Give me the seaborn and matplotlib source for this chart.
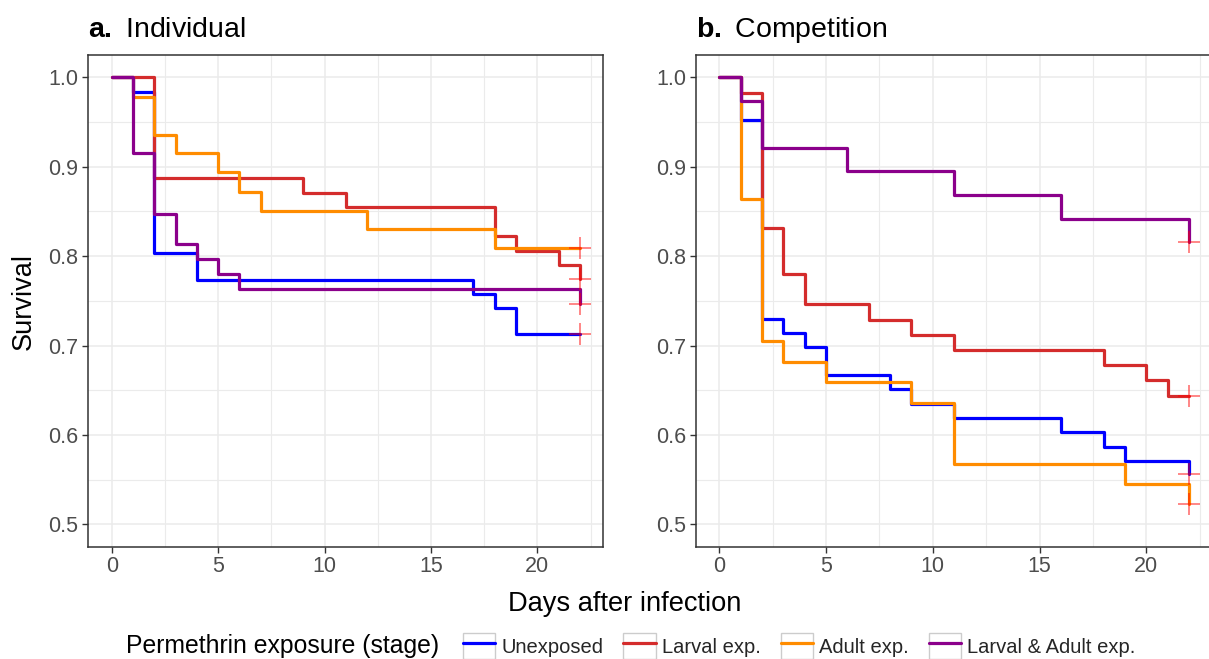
import matplotlib
matplotlib.use("Agg")
import matplotlib.pyplot as plt
import seaborn as sns
import pandas as pd
import numpy as np
from matplotlib.patches import Rectangle
from matplotlib.lines import Line2D
from matplotlib.legend_handler import HandlerTuple
from matplotlib.ticker import MultipleLocator, FormatStrFormatter

# ---------------- data ----------------
groups = ["Unexposed", "Larval exp.", "Adult exp.", "Larval & Adult exp."]
colors = ["#0000FF", "#D42C2C", "#FF8C00", "#8B008B"]

# a. Individual
ind_unexp_days = [0, 1, 2, 4, 17, 18, 19, 22]
ind_unexp_surv = [1.0, 0.984, 0.803, 0.773, 0.758, 0.742, 0.713, 0.713]
ind_larval_days = [0, 2, 9, 11, 18, 19, 21, 22]
ind_larval_surv = [1.0, 0.887, 0.871, 0.855, 0.823, 0.806, 0.790, 0.774]
ind_adult_days = [0, 1, 2, 3, 5, 6, 7, 12, 18, 22]
ind_adult_surv = [1.0, 0.978, 0.936, 0.915, 0.894, 0.872, 0.851, 0.830, 0.809, 0.809]
ind_both_days = [0, 1, 2, 3, 4, 5, 6, 22]
ind_both_surv = [1.0, 0.915, 0.847, 0.814, 0.797, 0.780, 0.763, 0.746]

# b. Competition
comp_unexp_days = [0, 1, 2, 3, 4, 5, 8, 9, 11, 16, 18, 19, 22]
comp_unexp_surv = [1.0, 0.952, 0.730, 0.714, 0.698, 0.667, 0.651, 0.635, 0.619, 0.603, 0.587, 0.571, 0.556]
comp_larval_days = [0, 1, 2, 3, 4, 7, 9, 11, 18, 20, 21, 22]
comp_larval_surv = [1.0, 0.983, 0.831, 0.780, 0.746, 0.729, 0.712, 0.695, 0.678, 0.661, 0.644, 0.644]
comp_adult_days = [0, 1, 2, 3, 5, 9, 11, 19, 22]
comp_adult_surv = [1.0, 0.864, 0.705, 0.682, 0.659, 0.636, 0.568, 0.545, 0.523]
comp_both_days = [0, 1, 2, 6, 11, 16, 22]
comp_both_surv = [1.0, 0.974, 0.921, 0.895, 0.868, 0.842, 0.816]

x_ticks = [0, 5, 10, 15, 20]
y_ticks = [0.5, 0.6, 0.7, 0.8, 0.9, 1.0]

panel_titles = [r"$\mathbf{a.}$ Individual", r"$\mathbf{b.}$ Competition"]
x_label = "Days after infection"
y_label = "Survival"
legend_title = "Permethrin exposure (stage)"


def build(days_list, surv_list):
    frames = []
    for g, d, s in zip(groups, days_list, surv_list):
        frames.append(pd.DataFrame({"day": d, "survival": s, "group": g}))
    return pd.concat(frames, ignore_index=True)


df_ind = build([ind_unexp_days, ind_larval_days, ind_adult_days, ind_both_days],
               [ind_unexp_surv, ind_larval_surv, ind_adult_surv, ind_both_surv])
df_comp = build([comp_unexp_days, comp_larval_days, comp_adult_days, comp_both_days],
                [comp_unexp_surv, comp_larval_surv, comp_adult_surv, comp_both_surv])

# ---------------- style ----------------
sns.set_theme(style="white")
plt.rcParams["font.family"] = ["Liberation Sans", "DejaVu Sans"]
plt.rcParams["mathtext.fontset"] = "custom"
plt.rcParams["mathtext.rm"] = "Liberation Sans"
plt.rcParams["mathtext.bf"] = "Liberation Sans:bold"

W, H = 1209, 659
fig = plt.figure(figsize=(W / 100, H / 100), dpi=100)
fig.patch.set_facecolor("white")

axes_px = [(88.3, 55, 515, 491.7), (695.7, 55, 519, 491.7)]
axes = []
for (x0, y0, w, h) in axes_px:
    ax = fig.add_axes([x0 / W, (H - y0 - h) / H, w / W, h / H])
    axes.append(ax)

for ax, df, title in zip(axes, [df_ind, df_comp], panel_titles):
    sns.lineplot(data=df, x="day", y="survival", hue="group", hue_order=groups,
                 palette=colors, drawstyle="steps-post", estimator=None, sort=False,
                 linewidth=2.3, legend=False, ax=ax, zorder=3)
    ends = df.groupby("group", sort=False).tail(1)
    sns.scatterplot(data=ends, x="day", y="survival", marker="+", color="red",
                    s=260, linewidth=1.1, alpha=0.6, legend=False, ax=ax, zorder=5)

    ax.set_xlim(-1.1, 23.1 if ax is axes[0] else 23.2)
    ax.set_ylim(0.475, 1.025)
    ax.set_xticks(x_ticks)
    ax.set_yticks(y_ticks)
    ax.yaxis.set_major_formatter(FormatStrFormatter("%.1f"))
    ax.xaxis.set_minor_locator(MultipleLocator(2.5))
    ax.yaxis.set_minor_locator(MultipleLocator(0.05))
    ax.grid(which="major", color="#EBEBEB", linewidth=1.1, zorder=0)
    ax.grid(which="minor", color="#EBEBEB", linewidth=0.8, zorder=0)
    ax.set_axisbelow(True)
    ax.tick_params(which="major", direction="out", length=4, width=1.0,
                   color="#333333", labelcolor="#4D4D4D", labelsize=15.5,
                   bottom=True, left=True)
    ax.tick_params(axis="x", pad=2.5)
    ax.tick_params(axis="y", pad=3)
    ax.tick_params(which="minor", length=0)
    for sp in ax.spines.values():
        sp.set_color("#333333")
        sp.set_linewidth(1.1)
    ax.set_xlabel("")
    ax.set_ylabel("")
    ax.set_title(title, loc="left", fontsize=20.5, pad=13, color="black")

fig.text(24 / W, (H - 301) / H, y_label, rotation=90, ha="center", va="center",
         fontsize=19.5, color="black")
fig.text(625 / W, (H - 604) / H, x_label, ha="center", va="center",
         fontsize=19.6, color="black")

# legend
handles = []
for c in colors:
    box = Rectangle((0, 0), 1, 1, facecolor="white", edgecolor="#CCCCCC", linewidth=1.0)
    ln = Line2D([], [], color=c, linewidth=2.3)
    handles.append((box, ln))
leg = fig.legend(handles, groups, loc="center left", bbox_to_anchor=(463 / W, 13 / H),
                 ncol=4, frameon=False, fontsize=14.5, handlelength=1.6, handleheight=1.6,
                 handletextpad=0.3, columnspacing=1.0, borderpad=0, borderaxespad=0,
                 handler_map={tuple: HandlerTuple(ndivide=1, pad=0)})
fig.text(126 / W, 13 / H, legend_title, ha="left", va="center", fontsize=17.8, color="black")

fig.savefig("out.png", dpi=100, facecolor="white")
